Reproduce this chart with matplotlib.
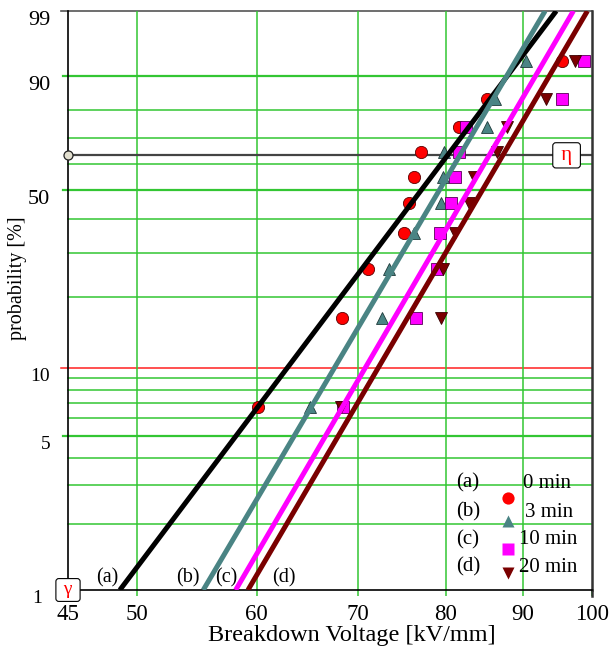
import numpy as np
import matplotlib
matplotlib.use("Agg")
import matplotlib.pyplot as plt
from matplotlib.ticker import NullLocator
import matplotlib.transforms as mtrans

plt.rcParams['font.family'] = ['Liberation Serif', 'DejaVu Serif']

# cumulative probability [%] (median ranks, n = 10)
prob = [6.7, 16.3, 25.9, 35.6, 45.2, 54.8, 64.4, 74.0, 83.7, 93.3]

# breakdown voltages [kV/mm] per ageing time
v_0min = [60.1, 68.3, 71.1, 75.1, 75.7, 76.3, 77.1, 81.7, 85.2, 95.6]
v_3min = [65.1, 72.6, 73.4, 76.3, 79.5, 79.7, 79.8, 85.2, 86.3, 90.5]
v_10min = [68.4, 76.5, 79.0, 79.3, 80.7, 81.2, 81.7, 82.5, 95.6, 98.8]
v_20min = [68.2, 79.5, 79.7, 81.2, 82.9, 83.6, 86.5, 87.9, 93.3, 97.5]

# fitted Weibull lines: voltage at 1 % and at 99 %
fit_v1 = [48.7, 55.3, 58.1, 59.2]
fit_v99 = [94.7, 93.1, 97.2, 99.3]

series_names = ['(a)', '(b)', '(c)', '(d)']
series_times = ['0 min', '3 min', '10 min', '20 min']
label_x = [47.8, 54.0, 57.3, 62.5]

x_ticks = [45, 50, 60, 70, 80, 90, 100]
y_ticks = [1, 5, 10, 50, 90, 99]
grid_p = [2, 3, 4, 5, 6, 7, 8, 9, 20, 30, 40, 50, 60, 70, 80, 90]
grid_v = [50, 60, 70, 80, 90]
eta_p = 63.2


def fwd(p):
    p = np.clip(np.asarray(p, dtype=float), 1e-9, 100 - 1e-9)
    return np.log(-np.log(1 - p / 100.0))


def inv(w):
    return 100.0 * (1 - np.exp(-np.exp(np.asarray(w, dtype=float))))


fig = plt.figure(figsize=(6.10, 6.48), dpi=100)
ax = fig.add_axes([68 / 610, 58 / 648, 524 / 610, 579 / 648])
ax.set_xscale('log')
ax.set_yscale('function', functions=(fwd, inv))
ax.set_xlim(45, 100)
ax.set_ylim(1, 99)

green = '#33c633'
trans_y = mtrans.blended_transform_factory(ax.transAxes, ax.transData)

# horizontal grid (major ones stick out to the left like ticks)
for p in grid_p:
    lw = 1.6 if p in (5, 50, 90) else 1.1
    x0 = -0.01 if p in (5, 50, 90) else 0.0
    ax.plot([x0, 1], [p, p], color=green, lw=lw, transform=trans_y,
            clip_on=False, zorder=1)
ax.plot([-0.013, 1], [10, 10], color='#ff2020', lw=1.1, transform=trans_y,
        clip_on=False, zorder=1)
ax.plot([-0.013, 1], [99, 99], color='#555555', lw=1.2, transform=trans_y,
        clip_on=False, zorder=1)
for v in grid_v:
    ax.axvline(v, color=green, lw=1.1, zorder=1)

# characteristic value line
ax.plot([45, 100], [eta_p, eta_p], color='#444444', lw=1.6, zorder=1.5)
ax.plot([45], [eta_p], 'o', ms=6.5, mfc='#e2dfcf', mec='#222222', mew=0.9,
        clip_on=False, zorder=6)

# data points
ax.plot(v_0min, prob, 'o', ms=8.8, mfc='#ff0000', mec='#5a0000', mew=0.6, zorder=2)
ax.plot(v_3min, prob, '^', ms=9, mfc='#4a8484', mec='#1e3a3a', mew=0.6, zorder=2)
ax.plot(v_10min, prob, 's', ms=8, mfc='#ff00ff', mec='#5a005a', mew=0.6, zorder=2)
ax.plot(v_20min, prob, 'v', ms=9, mfc='#7a0000', mec='#3a0000', mew=0.6, zorder=2)

# fitted lines
line_colors = ['#000000', '#4a8484', '#ff00ff', '#7a0000']
for v1, v99, c in zip(fit_v1, fit_v99, line_colors):
    ax.plot([v1, v99], [1, 99], color=c, lw=3.6, solid_capstyle='butt', zorder=3)

for name, xv in zip(series_names, label_x):
    ax.text(xv, 1.03, name, ha='center', va='bottom', fontsize=14.5, zorder=4)

# gamma and eta boxes
ax.text(45, 1, ' \u03b3 ', ha='center', va='center', color='#ff0000', fontsize=14,
        bbox=dict(boxstyle='round,pad=0.15', fc='white', ec='black', lw=0.8),
        clip_on=False, zorder=10)
ax.text(96.2, eta_p, ' \u03b7 ', ha='center', va='center', color='#ff0000', fontsize=15,
        bbox=dict(boxstyle='round,pad=0.15', fc='white', ec='black', lw=0.8),
        zorder=10)

# legend drawn by hand
leg_y_text = [0.1848, 0.1347, 0.0864, 0.0397]
leg_y_mark = [0.1589, 0.1192, 0.0708, 0.0294]
leg_x_time = [0.8683, 0.8721, 0.8607, 0.8607]
markers = [('o', '#ff0000', 8.8), ('^', '#4a8484', 9), ('s', '#ff00ff', 8), ('v', '#7a0000', 9)]
for i in range(4):
    ax.text(0.7634, leg_y_text[i], series_names[i], transform=ax.transAxes,
            ha='center', va='center', fontsize=15, zorder=5)
    ax.text(leg_x_time[i], leg_y_text[i], series_times[i], transform=ax.transAxes,
            ha='left', va='center', fontsize=15, zorder=5)
    m, c, s = markers[i]
    ax.plot([0.8397], [leg_y_mark[i]], m, ms=s, mfc=c, mec='none',
            transform=ax.transAxes, zorder=5)

# spines
for side in ['left', 'bottom']:
    ax.spines[side].set_color('black')
    ax.spines[side].set_linewidth(1.2)
ax.spines['top'].set_visible(False)
ax.spines['right'].set_color('#333333')
ax.spines['right'].set_linewidth(1.8)
ax.plot([1, 1], [0, -0.01], color='#333333', lw=1.8, transform=ax.transAxes, clip_on=False)

# x ticks
ax.set_xticks(x_ticks)
ax.set_xticklabels([str(t) for t in x_ticks])
ax.xaxis.set_minor_locator(NullLocator())
ax.tick_params(axis='x', length=4, width=1.1, color=green, pad=6, labelsize=16.5)

# y ticks (hand placed)
ax.set_yticks([])
ax.yaxis.set_minor_locator(NullLocator())
ax.tick_params(axis='y', length=0)
ysizes = {1: 14, 5: 14, 10: 14, 50: 16, 90: 16, 99: 16}
for t in y_ticks:
    ax.text(-0.034 if t != 1 else -0.05, t, str(t), transform=trans_y, ha='right', va='top',
            fontsize=ysizes[t], clip_on=False)

fig.text(352 / 610, 1 - 635 / 648, 'Breakdown Voltage [kV/mm]', ha='center', va='center',
         fontsize=17.5)
fig.text(18 / 610, 1 - 278 / 648, 'probability [%]', ha='center', va='center',
         rotation=90, fontsize=14.5)

fig.savefig('out.png', dpi=100)
